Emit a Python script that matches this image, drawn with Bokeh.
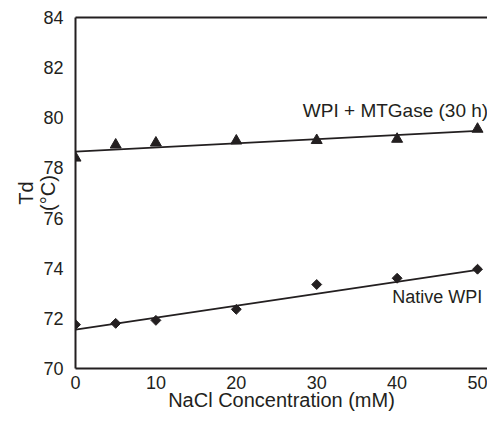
import math
from bokeh.plotting import figure
from bokeh.models import Label, LinearAxis, FixedTicker, Range1d
from bokeh.embed import file_html
from bokeh.resources import INLINE

# ---- data ----
nacl = [0, 5, 10, 20, 30, 40, 50]
td_native = [71.75, 71.8, 71.92, 72.36, 73.35, 73.6, 73.96]
td_mtgase = [78.4, 78.92, 79.0, 79.08, 79.1, 79.15, 79.55]
fit_x = [0, 50]
fit_native = [71.55, 73.93]
fit_mtgase = [78.65, 79.48]
x_ticks = [0, 10, 20, 30, 40, 50]
y_ticks = [70, 72, 74, 76, 78, 80, 82, 84]
series_labels = ["WPI + MTGase (30 h)", "Native WPI"]

INK = "#231f20"
FONT = "Liberation Sans"

p = figure(width=487, height=413, output_backend="svg", toolbar_location=None,
           x_range=Range1d(0, 51.24), y_range=Range1d(70, 84),
           min_border_left=75, min_border_right=0, min_border_top=17, min_border_bottom=45)
p.grid.visible = False
p.outline_line_color = None
p.background_fill_color = "white"
p.border_fill_color = "white"

for ax, ticks in ((p.xaxis[0], x_ticks), (p.yaxis[0], y_ticks)):
    ax.ticker = FixedTicker(ticks=ticks)
    ax.axis_line_width = 2
    ax.axis_line_color = INK
    ax.major_tick_line_color = None
    ax.minor_tick_line_color = None
    ax.major_tick_out = 0
    ax.major_tick_in = 0
    ax.major_label_text_font = FONT
    ax.major_label_text_font_size = "18px"
    ax.major_label_text_color = INK
    ax.axis_label_text_font = FONT
    ax.axis_label_text_font_size = "20px"
    ax.axis_label_text_font_style = "normal"
    ax.axis_label_text_color = INK

p.xaxis.major_label_standoff = 7
p.yaxis.major_label_standoff = 12
p.xaxis.axis_label = "NaCl Concentration (mM)"
p.xaxis.axis_label_standoff = -3
p.yaxis.axis_label = "Td\n(°C)"
p.yaxis.axis_label_text_line_height = 1.0
p.yaxis.axis_label_standoff = -19

top = LinearAxis(ticker=FixedTicker(ticks=[]), axis_line_width=2, axis_line_color=INK,
                 major_tick_line_color=None, minor_tick_line_color=None,
                 major_label_text_font_size="0px", major_tick_out=0, major_label_standoff=0)
p.add_layout(top, "above")

# fitted lines
p.line(fit_x, fit_mtgase, line_color=INK, line_width=1.8)
p.line(fit_x, fit_native, line_color=INK, line_width=1.8)

# markers
p.scatter(nacl, td_mtgase, marker="triangle", size=11, fill_color=INK, line_color=INK)
p.scatter(nacl, td_native, marker="square", size=7, angle=math.pi / 4,
          fill_color=INK, line_color=INK)

# series annotations
p.add_layout(Label(x=39.8, y=80.28, text=series_labels[0], text_align="center",
                   text_baseline="middle", text_font=FONT, text_font_size="19px",
                   text_color=INK))
p.add_layout(Label(x=39.4, y=72.84, text=series_labels[1], text_align="left",
                   text_baseline="middle", text_font=FONT, text_font_size="18px",
                   text_color=INK))

open("out.html", "w").write(file_html(p, INLINE))
